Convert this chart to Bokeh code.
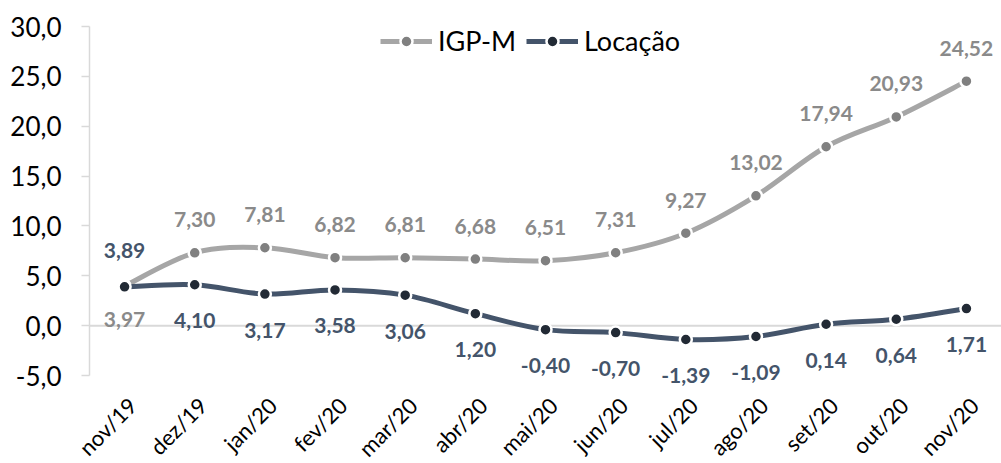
import math
from bokeh.plotting import figure
from bokeh.models import FixedTicker, Legend, LegendItem, ColumnDataSource, LabelSet
from bokeh.core.properties import value
from bokeh.embed import file_html
from bokeh.resources import INLINE

categories = ["nov/19", "dez/19", "jan/20", "fev/20", "mar/20", "abr/20", "mai/20",
              "jun/20", "jul/20", "ago/20", "set/20", "out/20", "nov/20"]
igpm = [3.97, 7.30, 7.81, 6.82, 6.81, 6.68, 6.51, 7.31, 9.27, 13.02, 17.94, 20.93, 24.52]
locacao = [3.89, 4.10, 3.17, 3.58, 3.06, 1.20, -0.40, -0.70, -1.39, -1.09, 0.14, 0.64, 1.71]
y_ticks = [-5, 0, 5, 10, 15, 20, 25, 30]

FONT = "Lato"
GRAY_LINE = "#A6A6A6"
GRAY_DOT = "#808080"
GRAY_TXT = "#8A8A8A"
BLUE_LINE = "#44546A"
BLUE_DOT = "#222A35"
BLUE_TXT = "#44546A"

W, H = 1001, 463
xs = list(range(len(categories)))
n = len(categories)
y_lo, y_hi = y_ticks[0], y_ticks[-1]

# plot-area geometry (pixels) of the value axis box inside the canvas
AX_LEFT, AX_TOP, AX_H = 89, 26, 349
px_y = AX_H / (y_hi - y_lo)
px_x = (W - AX_LEFT) / n
x_lo_cat = -0.5
x_start = x_lo_cat - AX_LEFT / px_x
x_end = x_start + W / px_x
y_end = y_hi + AX_TOP / px_y
y_start = y_end - H / px_y

p = figure(width=W, height=H, output_backend="svg", toolbar_location=None,
           x_range=(x_start, x_end), y_range=(y_start, y_end),
           min_border_left=0, min_border_right=0, min_border_top=0, min_border_bottom=0)
p.outline_line_color = None
p.grid.grid_line_color = None
p.background_fill_color = "white"

# zero line (horizontal axis crossing at 0)
p.segment(x0=[x_lo_cat], y0=[0], x1=[x_end], y1=[0], line_color="#D9D9D9", line_width=2)


def smooth(xv, yv):
    m = len(xv)
    out = dict(x0=[], y0=[], x1=[], y1=[], cx0=[], cy0=[], cx1=[], cy1=[])
    for i in range(m - 1):
        p0 = (xv[max(i - 1, 0)], yv[max(i - 1, 0)])
        p1 = (xv[i], yv[i])
        p2 = (xv[i + 1], yv[i + 1])
        p3 = (xv[min(i + 2, m - 1)], yv[min(i + 2, m - 1)])
        out["x0"].append(p1[0]); out["y0"].append(p1[1])
        out["x1"].append(p2[0]); out["y1"].append(p2[1])
        out["cx0"].append(p1[0] + (p2[0] - p0[0]) / 6)
        out["cy0"].append(p1[1] + (p2[1] - p0[1]) / 6)
        out["cx1"].append(p2[0] - (p3[0] - p1[0]) / 6)
        out["cy1"].append(p2[1] - (p3[1] - p1[1]) / 6)
    return out


series = [
    ("IGP-M", igpm, GRAY_LINE, GRAY_DOT, GRAY_TXT, 33),
    ("Locação", locacao, BLUE_LINE, BLUE_DOT, BLUE_TXT, -36),
]
items = []
for name, vals, lc, dc, tc, off in series:
    bz = p.bezier(source=ColumnDataSource(smooth(xs, vals)), x0="x0", y0="y0", x1="x1", y1="y1",
                  cx0="cx0", cy0="cy0", cx1="cx1", cy1="cy1", line_color=lc, line_width=5)
    sc = p.scatter(xs, vals, size=12, fill_color=dc, line_color="white", line_width=2.5)
    offs = [off] * len(vals)
    offs[0] = -off  # first labels swapped
    labels = [f"{v:.2f}".replace(".", ",") for v in vals]
    src = ColumnDataSource(dict(x=xs, y=vals, t=labels, o=offs))
    p.add_layout(LabelSet(x="x", y="y", text="t", y_offset="o", source=src,
                          text_align="center", text_baseline="middle",
                          text_font=value(FONT), text_font_style="bold",
                          text_font_size="21px", text_color=tc))
    items.append(LegendItem(label=name, renderers=[bz, sc]))

legend = Legend(items=items, orientation="horizontal", location=(380, H - 57),
                label_text_font=FONT, label_text_font_size="27px", label_text_color="#000000",
                glyph_width=52, glyph_height=30, label_height=30, label_standoff=6, spacing=10,
                padding=0, margin=0, background_fill_alpha=0, border_line_color=None)
p.add_layout(legend)

# y axis, fixed at the left edge of the category area
ya = p.yaxis[0]
ya.fixed_location = x_lo_cat
ya.bounds = (y_lo, y_hi)
ya.ticker = FixedTicker(ticks=y_ticks)
ya.major_label_overrides = {t: f"{t:.1f}".replace(".", ",") for t in y_ticks}
ya.axis_line_color = "#D9D9D9"
ya.axis_line_width = 1.5
ya.major_tick_line_color = "#D9D9D9"
ya.major_tick_line_width = 1.5
ya.major_tick_out = 8
ya.major_tick_in = 0
ya.minor_tick_line_color = None
ya.major_label_standoff = 20
ya.major_label_text_font = FONT
ya.major_label_text_font_size = "26px"
ya.major_label_text_color = "#000000"

# category labels, rotated, below the value axis bottom
p.xaxis.visible = False
cat_src = ColumnDataSource(dict(x=xs, y=[y_lo] * n, t=categories))
p.add_layout(LabelSet(x="x", y="y", text="t", source=cat_src, angle=math.pi / 4,
                      x_offset=8, y_offset=-26, text_align="right", text_baseline="middle",
                      text_font=value(FONT), text_font_size="22px", text_color="#000000"))

open("out.html", "w").write(file_html(p, INLINE))
